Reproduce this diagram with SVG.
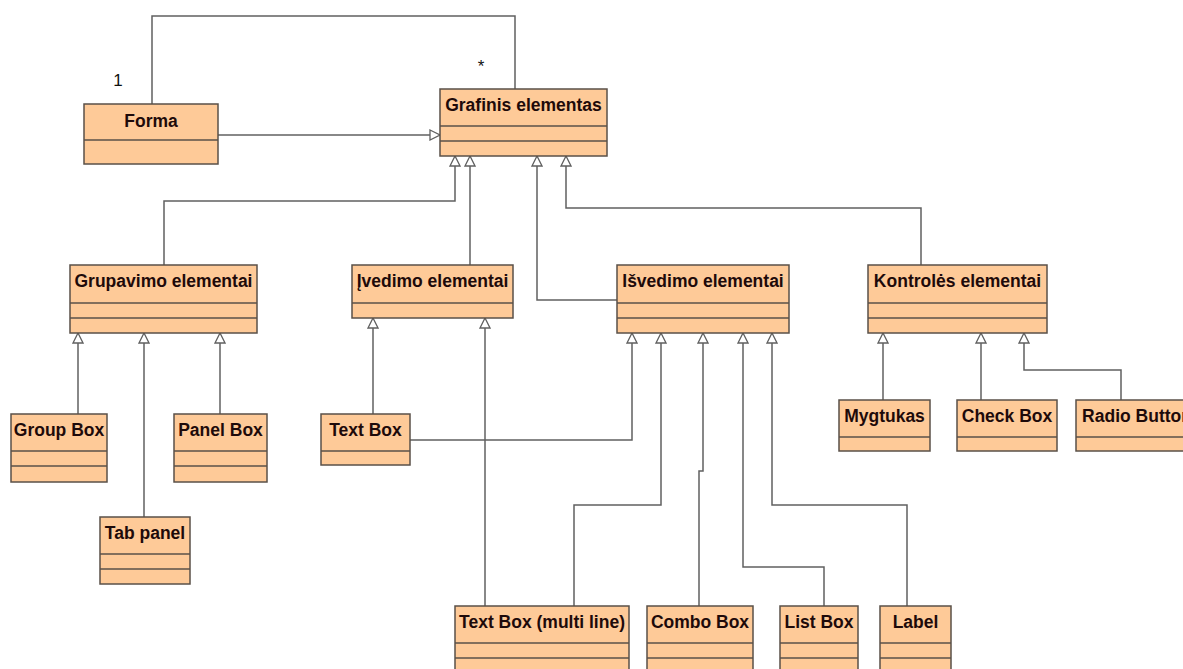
<svg xmlns="http://www.w3.org/2000/svg" width="1183" height="669" viewBox="0 0 1183 669">
  <style>
    .box { fill: #FECA98; stroke: #5a5048; stroke-width: 1.5; }
    .div { stroke: #5a5048; stroke-width: 1.5; }
    .title { font-family: "Liberation Sans", Arial, sans-serif; font-weight: bold; font-size: 17.5px; fill: #1e0a0a; text-anchor: middle; }
    .mult { font-family: "Liberation Sans", Arial, sans-serif; font-size: 17px; fill: #111; text-anchor: middle; }
    .conn path { fill: none; stroke: #606060; stroke-width: 1.5; }
    .conn path.gen { marker-end: url(#tri); }
  </style>
  <defs>
    <!-- hollow generalization triangle -->
    <marker id="tri" viewBox="0 0 12 12" refX="11" refY="6" markerWidth="12" markerHeight="12" markerUnits="userSpaceOnUse" orient="auto">
      <path d="M1,1 L11,6 L1,11 Z" fill="#fff" stroke="#606060" stroke-width="1.3"/>
    </marker>
  </defs>
  <rect width="1183" height="669" fill="#fff"/>

  <g class="conn" id="connectors">
    <path d="M152,104 V16 H515 V89"/>
    <path class="gen" d="M218,135 H440"/>
    <path class="gen" d="M164,265 V201 H455 V156"/>
    <path class="gen" d="M470,265 V156"/>
    <path class="gen" d="M617,300 H537 V156"/>
    <path class="gen" d="M921,265 V208 H566 V156"/>
    <path class="gen" d="M78,414 V333"/>
    <path class="gen" d="M144,517 V333"/>
    <path class="gen" d="M220,414 V333"/>
    <path class="gen" d="M373,414 V318"/>
    <path class="gen" d="M485,606 V318"/>
    <path class="gen" d="M410,440 H632 V333"/>
    <path class="gen" d="M574,606 V505 H661 V333"/>
    <path class="gen" d="M699,606 V471 H703 V333"/>
    <path class="gen" d="M824,606 V567 H743 V333"/>
    <path class="gen" d="M907,606 V505 H772 V333"/>
    <path class="gen" d="M883,400 V333"/>
    <path class="gen" d="M981,400 V333"/>
    <path class="gen" d="M1121,400 V370 H1024 V333"/>
  </g>

  <text class="mult" x="118" y="86">1</text>
  <text class="mult" x="481" y="72">*</text>

  <g id="forma">
    <rect class="box" x="84" y="104" width="134" height="60"/>
    <line class="div" x1="84" y1="140" x2="218" y2="140"/>
    <text class="title" x="151" y="127">Forma</text>
  </g>

  <g id="grafinis-elementas">
    <rect class="box" x="440" y="89" width="167" height="67"/>
    <line class="div" x1="440" y1="126" x2="607" y2="126"/>
    <line class="div" x1="440" y1="141" x2="607" y2="141"/>
    <text class="title" x="523.5" y="111">Grafinis elementas</text>
  </g>

  <g id="grupavimo-elementai">
    <rect class="box" x="70" y="265" width="187" height="68"/>
    <line class="div" x1="70" y1="303" x2="257" y2="303"/>
    <line class="div" x1="70" y1="318" x2="257" y2="318"/>
    <text class="title" x="163.5" y="287">Grupavimo elementai</text>
  </g>

  <g id="ivedimo-elementai">
    <rect class="box" x="352" y="265" width="161" height="53"/>
    <line class="div" x1="352" y1="303" x2="513" y2="303"/>
    <text class="title" x="432.5" y="287">Įvedimo elementai</text>
  </g>

  <g id="isvedimo-elementai">
    <rect class="box" x="617" y="265" width="172" height="68"/>
    <line class="div" x1="617" y1="303" x2="789" y2="303"/>
    <line class="div" x1="617" y1="318" x2="789" y2="318"/>
    <text class="title" x="703" y="287">Išvedimo elementai</text>
  </g>

  <g id="kontroles-elementai">
    <rect class="box" x="868" y="265" width="179" height="68"/>
    <line class="div" x1="868" y1="303" x2="1047" y2="303"/>
    <line class="div" x1="868" y1="318" x2="1047" y2="318"/>
    <text class="title" x="957.5" y="287">Kontrolės elementai</text>
  </g>

  <g id="group-box">
    <rect class="box" x="11" y="414" width="96" height="68"/>
    <line class="div" x1="11" y1="451" x2="107" y2="451"/>
    <line class="div" x1="11" y1="466" x2="107" y2="466"/>
    <text class="title" x="59" y="436">Group Box</text>
  </g>

  <g id="panel-box">
    <rect class="box" x="174" y="414" width="93" height="68"/>
    <line class="div" x1="174" y1="451" x2="267" y2="451"/>
    <line class="div" x1="174" y1="466" x2="267" y2="466"/>
    <text class="title" x="220.5" y="436">Panel Box</text>
  </g>

  <g id="tab-panel">
    <rect class="box" x="100" y="517" width="90" height="67"/>
    <line class="div" x1="100" y1="554" x2="190" y2="554"/>
    <line class="div" x1="100" y1="569" x2="190" y2="569"/>
    <text class="title" x="145" y="539">Tab panel</text>
  </g>

  <g id="text-box">
    <rect class="box" x="321" y="414" width="89" height="51"/>
    <line class="div" x1="321" y1="451" x2="410" y2="451"/>
    <text class="title" x="365.5" y="436">Text Box</text>
  </g>

  <g id="mygtukas">
    <rect class="box" x="839" y="400" width="91" height="51"/>
    <line class="div" x1="839" y1="437" x2="930" y2="437"/>
    <text class="title" x="884.5" y="422">Mygtukas</text>
  </g>

  <g id="check-box">
    <rect class="box" x="957" y="400" width="100" height="51"/>
    <line class="div" x1="957" y1="437" x2="1057" y2="437"/>
    <text class="title" x="1007" y="422">Check Box</text>
  </g>

  <g id="radio-button">
    <rect class="box" x="1076" y="400" width="122" height="51"/>
    <line class="div" x1="1076" y1="437" x2="1198" y2="437"/>
    <text class="title" x="1137" y="422">Radio Button</text>
  </g>

  <g id="text-box-multi">
    <rect class="box" x="455" y="606" width="174" height="70"/>
    <line class="div" x1="455" y1="643" x2="629" y2="643"/>
    <line class="div" x1="455" y1="658" x2="629" y2="658"/>
    <text class="title" x="542" y="628">Text Box (multi line)</text>
  </g>

  <g id="combo-box">
    <rect class="box" x="647" y="606" width="106" height="70"/>
    <line class="div" x1="647" y1="643" x2="753" y2="643"/>
    <line class="div" x1="647" y1="658" x2="753" y2="658"/>
    <text class="title" x="700" y="628">Combo Box</text>
  </g>

  <g id="list-box">
    <rect class="box" x="780" y="606" width="78" height="70"/>
    <line class="div" x1="780" y1="643" x2="858" y2="643"/>
    <line class="div" x1="780" y1="658" x2="858" y2="658"/>
    <text class="title" x="819" y="628">List Box</text>
  </g>

  <g id="label">
    <rect class="box" x="880" y="606" width="71" height="70"/>
    <line class="div" x1="880" y1="643" x2="951" y2="643"/>
    <line class="div" x1="880" y1="658" x2="951" y2="658"/>
    <text class="title" x="915.5" y="628">Label</text>
  </g>
</svg>
